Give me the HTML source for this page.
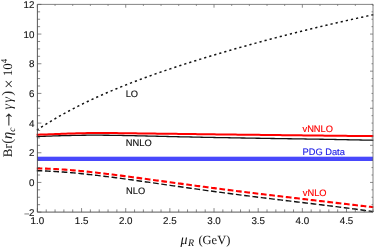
<!DOCTYPE html>
<html><head><meta charset="utf-8"><title>plot</title>
<style>
html,body{margin:0;padding:0;background:#fff;}
body{width:374px;height:247px;overflow:hidden;font-family:"Liberation Sans",sans-serif;}
svg{display:block;text-rendering:geometricPrecision}
.tk text{font-family:"Liberation Sans",sans-serif;font-size:9.8px;fill:#111;stroke:#111;stroke-width:0.12px;}
.lb text{font-family:"Liberation Sans",sans-serif;font-size:9.3px;stroke-width:0.15px;}
.ax{font-family:"Liberation Serif",serif;fill:#111;}
</style></head><body>
<svg width="374" height="247" viewBox="0 0 374 247">
<rect width="374" height="247" fill="#fff"/>
<defs><filter id="idf" x="0" y="0" width="374" height="247" filterUnits="userSpaceOnUse" color-interpolation-filters="sRGB"><feColorMatrix type="matrix" values="1 0 0 0 0 0 1 0 0 0 0 0 1 0 0 0 0 0 1 0"/></filter><clipPath id="cp"><rect x="36.5" y="4.4" width="337.1" height="207.7"/></clipPath></defs>
<g clip-path="url(#cp)" fill="none">
<path d="M36.20,130.53 L37.89,129.40 L39.59,128.29 L41.28,127.19 L42.98,126.10 L44.67,125.03 L46.37,123.96 L48.06,122.92 L49.76,121.88 L51.45,120.85 L53.15,119.84 L54.84,118.84 L56.54,117.85 L58.23,116.87 L59.93,115.91 L61.62,114.95 L63.32,114.00 L65.01,113.07 L66.71,112.14 L68.40,111.23 L70.10,110.32 L71.79,109.43 L73.49,108.54 L75.18,107.66 L76.88,106.80 L78.57,105.94 L80.27,105.09 L81.96,104.25 L83.66,103.41 L85.35,102.59 L87.05,101.77 L88.74,100.96 L90.44,100.16 L92.13,99.37 L93.83,98.58 L95.52,97.80 L97.22,97.03 L98.91,96.26 L100.61,95.51 L102.30,94.75 L104.00,94.01 L105.69,93.27 L107.39,92.54 L109.08,91.81 L110.78,91.09 L112.47,90.38 L114.17,89.67 L115.86,88.97 L117.56,88.27 L119.25,87.58 L120.95,86.90 L122.64,86.22 L124.34,85.54 L126.03,84.87 L127.73,84.20 L129.42,83.54 L131.12,82.89 L132.81,82.24 L134.51,81.59 L136.20,80.95 L137.90,80.31 L139.59,79.68 L141.29,79.05 L142.98,78.42 L144.68,77.80 L146.37,77.18 L148.07,76.57 L149.76,75.96 L151.46,75.35 L153.15,74.75 L154.85,74.15 L156.54,73.55 L158.24,72.96 L159.93,72.37 L161.63,71.79 L163.32,71.20 L165.02,70.62 L166.71,70.05 L168.41,69.48 L170.10,68.91 L171.80,68.34 L173.49,67.77 L175.19,67.21 L176.88,66.65 L178.58,66.10 L180.27,65.54 L181.97,64.99 L183.66,64.44 L185.36,63.90 L187.05,63.36 L188.75,62.82 L190.44,62.28 L192.14,61.74 L193.83,61.21 L195.53,60.68 L197.22,60.15 L198.92,59.62 L200.61,59.10 L202.31,58.57 L204.00,58.05 L205.70,57.54 L207.39,57.02 L209.09,56.51 L210.78,55.99 L212.48,55.48 L214.17,54.98 L215.87,54.47 L217.56,53.97 L219.26,53.47 L220.95,52.97 L222.65,52.47 L224.34,51.97 L226.04,51.48 L227.73,50.98 L229.43,50.49 L231.12,50.00 L232.82,49.52 L234.51,49.03 L236.21,48.55 L237.90,48.07 L239.60,47.59 L241.29,47.11 L242.99,46.63 L244.68,46.16 L246.38,45.69 L248.07,45.21 L249.77,44.74 L251.46,44.28 L253.16,43.81 L254.85,43.35 L256.55,42.88 L258.24,42.42 L259.94,41.96 L261.63,41.50 L263.33,41.05 L265.02,40.59 L266.72,40.14 L268.41,39.69 L270.11,39.24 L271.80,38.79 L273.50,38.35 L275.19,37.90 L276.89,37.46 L278.58,37.02 L280.28,36.58 L281.97,36.14 L283.67,35.70 L285.36,35.27 L287.06,34.83 L288.75,34.40 L290.45,33.97 L292.14,33.54 L293.84,33.12 L295.53,32.69 L297.23,32.27 L298.92,31.84 L300.62,31.42 L302.31,31.00 L304.01,30.59 L305.70,30.17 L307.40,29.76 L309.09,29.34 L310.79,28.93 L312.48,28.52 L314.18,28.11 L315.87,27.71 L317.57,27.30 L319.26,26.90 L320.96,26.49 L322.65,26.09 L324.35,25.69 L326.04,25.30 L327.74,24.90 L329.43,24.50 L331.13,24.11 L332.82,23.72 L334.52,23.33 L336.21,22.94 L337.91,22.55 L339.60,22.16 L341.30,21.78 L342.99,21.39 L344.69,21.01 L346.38,20.63 L348.08,20.25 L349.77,19.87 L351.47,19.49 L353.16,19.11 L354.86,18.74 L356.55,18.36 L358.25,17.99 L359.94,17.62 L361.64,17.25 L363.33,16.88 L365.03,16.51 L366.72,16.14 L368.42,15.77 L370.11,15.40 L371.81,15.04 L373.50,14.67" stroke="#111" stroke-width="1.5" stroke-dasharray="2.2 3.03" stroke-dashoffset="-0.6"/>
<rect x="37.4" y="156.7" width="335.6" height="4.3" fill="#4848fc"/>
<path d="M36.20,170.68 L37.89,170.72 L39.59,170.77 L41.28,170.82 L42.98,170.88 L44.67,170.95 L46.37,171.02 L48.06,171.10 L49.76,171.18 L51.45,171.27 L53.15,171.37 L54.84,171.47 L56.54,171.58 L58.23,171.69 L59.93,171.80 L61.62,171.93 L63.32,172.05 L65.01,172.18 L66.71,172.32 L68.40,172.46 L70.10,172.60 L71.79,172.75 L73.49,172.91 L75.18,173.06 L76.88,173.22 L78.57,173.39 L80.27,173.55 L81.96,173.73 L83.66,173.90 L85.35,174.08 L87.05,174.26 L88.74,174.44 L90.44,174.63 L92.13,174.82 L93.83,175.02 L95.52,175.21 L97.22,175.41 L98.91,175.61 L100.61,175.82 L102.30,176.02 L104.00,176.23 L105.69,176.44 L107.39,176.65 L109.08,176.87 L110.78,177.08 L112.47,177.30 L114.17,177.52 L115.86,177.74 L117.56,177.97 L119.25,178.19 L120.95,178.42 L122.64,178.65 L124.34,178.88 L126.03,179.11 L127.73,179.34 L129.42,179.57 L131.12,179.80 L132.81,180.04 L134.51,180.27 L136.20,180.51 L137.90,180.75 L139.59,180.98 L141.29,181.22 L142.98,181.46 L144.68,181.70 L146.37,181.94 L148.07,182.18 L149.76,182.42 L151.46,182.67 L153.15,182.91 L154.85,183.15 L156.54,183.39 L158.24,183.63 L159.93,183.88 L161.63,184.12 L163.32,184.36 L165.02,184.61 L166.71,184.85 L168.41,185.09 L170.10,185.33 L171.80,185.57 L173.49,185.82 L175.19,186.06 L176.88,186.30 L178.58,186.54 L180.27,186.78 L181.97,187.02 L183.66,187.26 L185.36,187.50 L187.05,187.74 L188.75,187.98 L190.44,188.22 L192.14,188.46 L193.83,188.69 L195.53,188.93 L197.22,189.17 L198.92,189.40 L200.61,189.64 L202.31,189.87 L204.00,190.11 L205.70,190.34 L207.39,190.57 L209.09,190.80 L210.78,191.03 L212.48,191.26 L214.17,191.49 L215.87,191.72 L217.56,191.95 L219.26,192.18 L220.95,192.40 L222.65,192.63 L224.34,192.86 L226.04,193.08 L227.73,193.30 L229.43,193.53 L231.12,193.75 L232.82,193.97 L234.51,194.19 L236.21,194.41 L237.90,194.63 L239.60,194.85 L241.29,195.07 L242.99,195.28 L244.68,195.50 L246.38,195.71 L248.07,195.93 L249.77,196.14 L251.46,196.36 L253.16,196.57 L254.85,196.78 L256.55,196.99 L258.24,197.21 L259.94,197.42 L261.63,197.63 L263.33,197.83 L265.02,198.04 L266.72,198.25 L268.41,198.46 L270.11,198.67 L271.80,198.87 L273.50,199.08 L275.19,199.28 L276.89,199.49 L278.58,199.70 L280.28,199.90 L281.97,200.10 L283.67,200.31 L285.36,200.51 L287.06,200.72 L288.75,200.92 L290.45,201.12 L292.14,201.32 L293.84,201.53 L295.53,201.73 L297.23,201.93 L298.92,202.14 L300.62,202.34 L302.31,202.54 L304.01,202.74 L305.70,202.95 L307.40,203.15 L309.09,203.35 L310.79,203.56 L312.48,203.76 L314.18,203.96 L315.87,204.17 L317.57,204.37 L319.26,204.58 L320.96,204.78 L322.65,204.99 L324.35,205.20 L326.04,205.40 L327.74,205.61 L329.43,205.82 L331.13,206.03 L332.82,206.24 L334.52,206.45 L336.21,206.66 L337.91,206.87 L339.60,207.09 L341.30,207.30 L342.99,207.52 L344.69,207.73 L346.38,207.95 L348.08,208.17 L349.77,208.39 L351.47,208.61 L353.16,208.83 L354.86,209.06 L356.55,209.28 L358.25,209.51 L359.94,209.74 L361.64,209.97 L363.33,210.20 L365.03,210.44 L366.72,210.67 L368.42,210.91 L370.11,211.15 L371.81,211.39 L373.50,211.63" stroke="#111" stroke-width="1.4" stroke-dasharray="5.72 2.645" stroke-dashoffset="-0.4"/>
<path d="M36.20,168.46 L37.89,168.48 L39.59,168.50 L41.28,168.53 L42.98,168.57 L44.67,168.62 L46.37,168.67 L48.06,168.73 L49.76,168.80 L51.45,168.87 L53.15,168.95 L54.84,169.04 L56.54,169.13 L58.23,169.23 L59.93,169.33 L61.62,169.44 L63.32,169.55 L65.01,169.67 L66.71,169.80 L68.40,169.93 L70.10,170.06 L71.79,170.20 L73.49,170.34 L75.18,170.49 L76.88,170.64 L78.57,170.80 L80.27,170.96 L81.96,171.12 L83.66,171.29 L85.35,171.46 L87.05,171.63 L88.74,171.81 L90.44,171.99 L92.13,172.18 L93.83,172.36 L95.52,172.55 L97.22,172.74 L98.91,172.94 L100.61,173.13 L102.30,173.33 L104.00,173.53 L105.69,173.74 L107.39,173.94 L109.08,174.15 L110.78,174.36 L112.47,174.57 L114.17,174.78 L115.86,175.00 L117.56,175.21 L119.25,175.43 L120.95,175.65 L122.64,175.87 L124.34,176.09 L126.03,176.31 L127.73,176.53 L129.42,176.76 L131.12,176.98 L132.81,177.21 L134.51,177.44 L136.20,177.66 L137.90,177.89 L139.59,178.12 L141.29,178.35 L142.98,178.58 L144.68,178.81 L146.37,179.04 L148.07,179.27 L149.76,179.50 L151.46,179.73 L153.15,179.97 L154.85,180.20 L156.54,180.43 L158.24,180.66 L159.93,180.89 L161.63,181.12 L163.32,181.36 L165.02,181.59 L166.71,181.82 L168.41,182.05 L170.10,182.28 L171.80,182.51 L173.49,182.74 L175.19,182.97 L176.88,183.20 L178.58,183.43 L180.27,183.66 L181.97,183.89 L183.66,184.12 L185.36,184.35 L187.05,184.58 L188.75,184.80 L190.44,185.03 L192.14,185.26 L193.83,185.48 L195.53,185.71 L197.22,185.93 L198.92,186.16 L200.61,186.38 L202.31,186.61 L204.00,186.83 L205.70,187.05 L207.39,187.27 L209.09,187.49 L210.78,187.72 L212.48,187.94 L214.17,188.15 L215.87,188.37 L217.56,188.59 L219.26,188.81 L220.95,189.03 L222.65,189.24 L224.34,189.46 L226.04,189.68 L227.73,189.89 L229.43,190.11 L231.12,190.32 L232.82,190.53 L234.51,190.75 L236.21,190.96 L237.90,191.17 L239.60,191.38 L241.29,191.59 L242.99,191.80 L244.68,192.01 L246.38,192.22 L248.07,192.43 L249.77,192.64 L251.46,192.85 L253.16,193.05 L254.85,193.26 L256.55,193.47 L258.24,193.67 L259.94,193.88 L261.63,194.09 L263.33,194.29 L265.02,194.49 L266.72,194.70 L268.41,194.90 L270.11,195.11 L271.80,195.31 L273.50,195.51 L275.19,195.72 L276.89,195.92 L278.58,196.12 L280.28,196.32 L281.97,196.52 L283.67,196.73 L285.36,196.93 L287.06,197.13 L288.75,197.33 L290.45,197.53 L292.14,197.73 L293.84,197.93 L295.53,198.13 L297.23,198.33 L298.92,198.53 L300.62,198.73 L302.31,198.93 L304.01,199.13 L305.70,199.33 L307.40,199.53 L309.09,199.72 L310.79,199.92 L312.48,200.12 L314.18,200.32 L315.87,200.52 L317.57,200.72 L319.26,200.92 L320.96,201.12 L322.65,201.31 L324.35,201.51 L326.04,201.71 L327.74,201.91 L329.43,202.11 L331.13,202.30 L332.82,202.50 L334.52,202.70 L336.21,202.90 L337.91,203.10 L339.60,203.29 L341.30,203.49 L342.99,203.69 L344.69,203.89 L346.38,204.08 L348.08,204.28 L349.77,204.48 L351.47,204.68 L353.16,204.87 L354.86,205.07 L356.55,205.27 L358.25,205.46 L359.94,205.66 L361.64,205.85 L363.33,206.05 L365.03,206.24 L366.72,206.44 L368.42,206.63 L370.11,206.83 L371.81,207.02 L373.50,207.22" stroke="#f00" stroke-width="2.1" stroke-dasharray="5.72 2.645" stroke-dashoffset="-0.4"/>
<path d="M36.20,136.58 L38.32,136.50 L40.44,136.42 L42.56,136.34 L44.69,136.27 L46.81,136.19 L48.93,136.11 L51.05,136.04 L53.17,135.97 L55.29,135.90 L57.41,135.83 L59.54,135.76 L61.66,135.70 L63.78,135.64 L65.90,135.59 L68.02,135.53 L70.14,135.48 L72.26,135.44 L74.38,135.39 L76.51,135.35 L78.63,135.32 L80.75,135.29 L82.87,135.26 L84.99,135.24 L87.11,135.22 L89.23,135.20 L91.36,135.19 L93.48,135.19 L95.60,135.19 L97.72,135.19 L99.84,135.20 L101.96,135.21 L104.08,135.23 L106.21,135.24 L108.33,135.27 L110.45,135.29 L112.57,135.32 L114.69,135.35 L116.81,135.38 L118.93,135.42 L121.06,135.45 L123.18,135.49 L125.30,135.54 L127.42,135.58 L129.54,135.62 L131.66,135.67 L133.78,135.72 L135.91,135.77 L138.03,135.81 L140.15,135.86 L142.27,135.91 L144.39,135.97 L146.51,136.02 L148.63,136.07 L150.75,136.12 L152.88,136.17 L155.00,136.22 L157.12,136.27 L159.24,136.32 L161.36,136.37 L163.48,136.41 L165.60,136.46 L167.73,136.51 L169.85,136.56 L171.97,136.61 L174.09,136.65 L176.21,136.70 L178.33,136.75 L180.45,136.79 L182.58,136.84 L184.70,136.88 L186.82,136.93 L188.94,136.97 L191.06,137.02 L193.18,137.06 L195.30,137.11 L197.43,137.15 L199.55,137.19 L201.67,137.24 L203.79,137.28 L205.91,137.32 L208.03,137.36 L210.15,137.40 L212.27,137.44 L214.40,137.49 L216.52,137.53 L218.64,137.57 L220.76,137.61 L222.88,137.65 L225.00,137.68 L227.12,137.72 L229.25,137.76 L231.37,137.80 L233.49,137.84 L235.61,137.88 L237.73,137.91 L239.85,137.95 L241.97,137.99 L244.10,138.02 L246.22,138.06 L248.34,138.10 L250.46,138.13 L252.58,138.17 L254.70,138.20 L256.82,138.24 L258.95,138.27 L261.07,138.31 L263.19,138.34 L265.31,138.38 L267.43,138.41 L269.55,138.44 L271.67,138.48 L273.79,138.51 L275.92,138.54 L278.04,138.57 L280.16,138.61 L282.28,138.64 L284.40,138.67 L286.52,138.70 L288.64,138.74 L290.77,138.77 L292.89,138.80 L295.01,138.83 L297.13,138.86 L299.25,138.90 L301.37,138.93 L303.49,138.96 L305.62,139.00 L307.74,139.03 L309.86,139.06 L311.98,139.10 L314.10,139.13 L316.22,139.16 L318.34,139.20 L320.47,139.23 L322.59,139.27 L324.71,139.31 L326.83,139.34 L328.95,139.38 L331.07,139.42 L333.19,139.46 L335.32,139.50 L337.44,139.54 L339.56,139.58 L341.68,139.62 L343.80,139.66 L345.92,139.70 L348.04,139.74 L350.16,139.78 L352.29,139.83 L354.41,139.87 L356.53,139.91 L358.65,139.95 L360.77,140.00 L362.89,140.04 L365.01,140.08 L367.14,140.13 L369.26,140.17 L371.38,140.22 L373.50,140.26" stroke="#111" stroke-width="1.3"/>
<path d="M36.20,134.78 L38.32,134.70 L40.44,134.62 L42.56,134.54 L44.69,134.46 L46.81,134.39 L48.93,134.31 L51.05,134.23 L53.17,134.15 L55.29,134.07 L57.41,133.99 L59.54,133.92 L61.66,133.84 L63.78,133.76 L65.90,133.69 L68.02,133.61 L70.14,133.54 L72.26,133.47 L74.38,133.40 L76.51,133.34 L78.63,133.28 L80.75,133.23 L82.87,133.18 L84.99,133.13 L87.11,133.09 L89.23,133.06 L91.36,133.03 L93.48,133.01 L95.60,133.00 L97.72,132.99 L99.84,132.99 L101.96,132.99 L104.08,133.00 L106.21,133.01 L108.33,133.03 L110.45,133.04 L112.57,133.06 L114.69,133.09 L116.81,133.11 L118.93,133.14 L121.06,133.16 L123.18,133.19 L125.30,133.22 L127.42,133.25 L129.54,133.28 L131.66,133.30 L133.78,133.33 L135.91,133.36 L138.03,133.39 L140.15,133.42 L142.27,133.45 L144.39,133.48 L146.51,133.51 L148.63,133.53 L150.75,133.56 L152.88,133.59 L155.00,133.61 L157.12,133.64 L159.24,133.66 L161.36,133.68 L163.48,133.71 L165.60,133.73 L167.73,133.76 L169.85,133.78 L171.97,133.80 L174.09,133.83 L176.21,133.85 L178.33,133.88 L180.45,133.91 L182.58,133.93 L184.70,133.96 L186.82,133.99 L188.94,134.02 L191.06,134.04 L193.18,134.07 L195.30,134.10 L197.43,134.13 L199.55,134.16 L201.67,134.19 L203.79,134.22 L205.91,134.25 L208.03,134.27 L210.15,134.30 L212.27,134.33 L214.40,134.36 L216.52,134.38 L218.64,134.41 L220.76,134.44 L222.88,134.46 L225.00,134.49 L227.12,134.51 L229.25,134.54 L231.37,134.56 L233.49,134.59 L235.61,134.61 L237.73,134.64 L239.85,134.66 L241.97,134.68 L244.10,134.71 L246.22,134.73 L248.34,134.76 L250.46,134.78 L252.58,134.80 L254.70,134.83 L256.82,134.85 L258.95,134.87 L261.07,134.90 L263.19,134.92 L265.31,134.95 L267.43,134.97 L269.55,134.99 L271.67,135.02 L273.79,135.04 L275.92,135.07 L278.04,135.09 L280.16,135.12 L282.28,135.15 L284.40,135.17 L286.52,135.20 L288.64,135.22 L290.77,135.25 L292.89,135.27 L295.01,135.30 L297.13,135.32 L299.25,135.35 L301.37,135.37 L303.49,135.40 L305.62,135.43 L307.74,135.45 L309.86,135.48 L311.98,135.50 L314.10,135.52 L316.22,135.55 L318.34,135.57 L320.47,135.60 L322.59,135.62 L324.71,135.64 L326.83,135.67 L328.95,135.69 L331.07,135.71 L333.19,135.73 L335.32,135.75 L337.44,135.78 L339.56,135.80 L341.68,135.82 L343.80,135.84 L345.92,135.86 L348.04,135.88 L350.16,135.90 L352.29,135.92 L354.41,135.94 L356.53,135.96 L358.65,135.97 L360.77,135.99 L362.89,136.01 L365.01,136.03 L367.14,136.05 L369.26,136.07 L371.38,136.09 L373.50,136.10" stroke="#f00" stroke-width="2.0"/>
</g>
<g stroke="#444" stroke-width="0.9" fill="none">
<path d="M37.4,4.4 V212.1 H373.0"/>
</g>
<g stroke="#666" stroke-width="0.8" fill="none">
<path d="M37.4,4.4 H373.0 V212.1"/>
</g>
<g stroke="#555" stroke-width="0.7" fill="none">
<line x1="37.40" y1="212.10" x2="41.40" y2="212.10"/><line x1="37.40" y1="204.68" x2="40.10" y2="204.68"/><line x1="37.40" y1="197.26" x2="40.10" y2="197.26"/><line x1="37.40" y1="189.85" x2="40.10" y2="189.85"/><line x1="37.40" y1="182.43" x2="41.40" y2="182.43"/><line x1="37.40" y1="175.01" x2="40.10" y2="175.01"/><line x1="37.40" y1="167.59" x2="40.10" y2="167.59"/><line x1="37.40" y1="160.18" x2="40.10" y2="160.18"/><line x1="37.40" y1="152.76" x2="41.40" y2="152.76"/><line x1="37.40" y1="145.34" x2="40.10" y2="145.34"/><line x1="37.40" y1="137.92" x2="40.10" y2="137.92"/><line x1="37.40" y1="130.50" x2="40.10" y2="130.50"/><line x1="37.40" y1="123.09" x2="41.40" y2="123.09"/><line x1="37.40" y1="115.67" x2="40.10" y2="115.67"/><line x1="37.40" y1="108.25" x2="40.10" y2="108.25"/><line x1="37.40" y1="100.83" x2="40.10" y2="100.83"/><line x1="37.40" y1="93.41" x2="41.40" y2="93.41"/><line x1="37.40" y1="86.00" x2="40.10" y2="86.00"/><line x1="37.40" y1="78.58" x2="40.10" y2="78.58"/><line x1="37.40" y1="71.16" x2="40.10" y2="71.16"/><line x1="37.40" y1="63.74" x2="41.40" y2="63.74"/><line x1="37.40" y1="56.32" x2="40.10" y2="56.32"/><line x1="37.40" y1="48.91" x2="40.10" y2="48.91"/><line x1="37.40" y1="41.49" x2="40.10" y2="41.49"/><line x1="37.40" y1="34.07" x2="41.40" y2="34.07"/><line x1="37.40" y1="26.65" x2="40.10" y2="26.65"/><line x1="37.40" y1="19.24" x2="40.10" y2="19.24"/><line x1="37.40" y1="11.82" x2="40.10" y2="11.82"/><line x1="37.40" y1="4.40" x2="41.40" y2="4.40"/><line x1="37.40" y1="212.10" x2="37.40" y2="208.10"/><line x1="46.23" y1="212.10" x2="46.23" y2="209.40"/><line x1="55.06" y1="212.10" x2="55.06" y2="209.40"/><line x1="63.89" y1="212.10" x2="63.89" y2="209.40"/><line x1="72.73" y1="212.10" x2="72.73" y2="209.40"/><line x1="81.56" y1="212.10" x2="81.56" y2="208.10"/><line x1="90.39" y1="212.10" x2="90.39" y2="209.40"/><line x1="99.22" y1="212.10" x2="99.22" y2="209.40"/><line x1="108.05" y1="212.10" x2="108.05" y2="209.40"/><line x1="116.88" y1="212.10" x2="116.88" y2="209.40"/><line x1="125.72" y1="212.10" x2="125.72" y2="208.10"/><line x1="134.55" y1="212.10" x2="134.55" y2="209.40"/><line x1="143.38" y1="212.10" x2="143.38" y2="209.40"/><line x1="152.21" y1="212.10" x2="152.21" y2="209.40"/><line x1="161.04" y1="212.10" x2="161.04" y2="209.40"/><line x1="169.87" y1="212.10" x2="169.87" y2="208.10"/><line x1="178.71" y1="212.10" x2="178.71" y2="209.40"/><line x1="187.54" y1="212.10" x2="187.54" y2="209.40"/><line x1="196.37" y1="212.10" x2="196.37" y2="209.40"/><line x1="205.20" y1="212.10" x2="205.20" y2="209.40"/><line x1="214.03" y1="212.10" x2="214.03" y2="208.10"/><line x1="222.86" y1="212.10" x2="222.86" y2="209.40"/><line x1="231.69" y1="212.10" x2="231.69" y2="209.40"/><line x1="240.53" y1="212.10" x2="240.53" y2="209.40"/><line x1="249.36" y1="212.10" x2="249.36" y2="209.40"/><line x1="258.19" y1="212.10" x2="258.19" y2="208.10"/><line x1="267.02" y1="212.10" x2="267.02" y2="209.40"/><line x1="275.85" y1="212.10" x2="275.85" y2="209.40"/><line x1="284.68" y1="212.10" x2="284.68" y2="209.40"/><line x1="293.52" y1="212.10" x2="293.52" y2="209.40"/><line x1="302.35" y1="212.10" x2="302.35" y2="208.10"/><line x1="311.18" y1="212.10" x2="311.18" y2="209.40"/><line x1="320.01" y1="212.10" x2="320.01" y2="209.40"/><line x1="328.84" y1="212.10" x2="328.84" y2="209.40"/><line x1="337.67" y1="212.10" x2="337.67" y2="209.40"/><line x1="346.51" y1="212.10" x2="346.51" y2="208.10"/><line x1="355.34" y1="212.10" x2="355.34" y2="209.40"/><line x1="364.17" y1="212.10" x2="364.17" y2="209.40"/><line x1="373.00" y1="212.10" x2="373.00" y2="209.40"/>
</g>
<g stroke="#666" stroke-width="0.75" fill="none">
<line x1="373.00" y1="212.10" x2="371.50" y2="212.10"/><line x1="373.00" y1="204.68" x2="371.50" y2="204.68"/><line x1="373.00" y1="197.26" x2="371.50" y2="197.26"/><line x1="373.00" y1="189.85" x2="371.50" y2="189.85"/><line x1="373.00" y1="182.43" x2="370.00" y2="182.43"/><line x1="373.00" y1="175.01" x2="371.50" y2="175.01"/><line x1="373.00" y1="167.59" x2="371.50" y2="167.59"/><line x1="373.00" y1="160.18" x2="371.50" y2="160.18"/><line x1="373.00" y1="152.76" x2="371.50" y2="152.76"/><line x1="373.00" y1="145.34" x2="370.00" y2="145.34"/><line x1="373.00" y1="137.92" x2="371.50" y2="137.92"/><line x1="373.00" y1="130.50" x2="371.50" y2="130.50"/><line x1="373.00" y1="123.09" x2="371.50" y2="123.09"/><line x1="373.00" y1="115.67" x2="371.50" y2="115.67"/><line x1="373.00" y1="108.25" x2="370.00" y2="108.25"/><line x1="373.00" y1="100.83" x2="371.50" y2="100.83"/><line x1="373.00" y1="93.41" x2="371.50" y2="93.41"/><line x1="373.00" y1="86.00" x2="371.50" y2="86.00"/><line x1="373.00" y1="78.58" x2="371.50" y2="78.58"/><line x1="373.00" y1="71.16" x2="370.00" y2="71.16"/><line x1="373.00" y1="63.74" x2="371.50" y2="63.74"/><line x1="373.00" y1="56.32" x2="371.50" y2="56.32"/><line x1="373.00" y1="48.91" x2="371.50" y2="48.91"/><line x1="373.00" y1="41.49" x2="371.50" y2="41.49"/><line x1="373.00" y1="34.07" x2="370.00" y2="34.07"/><line x1="373.00" y1="26.65" x2="371.50" y2="26.65"/><line x1="373.00" y1="19.24" x2="371.50" y2="19.24"/><line x1="373.00" y1="11.82" x2="371.50" y2="11.82"/><line x1="373.00" y1="4.40" x2="371.50" y2="4.40"/><line x1="37.40" y1="4.40" x2="37.40" y2="7.70"/><line x1="55.06" y1="4.40" x2="55.06" y2="5.90"/><line x1="72.73" y1="4.40" x2="72.73" y2="5.90"/><line x1="90.39" y1="4.40" x2="90.39" y2="5.90"/><line x1="108.05" y1="4.40" x2="108.05" y2="5.90"/><line x1="125.72" y1="4.40" x2="125.72" y2="7.70"/><line x1="143.38" y1="4.40" x2="143.38" y2="5.90"/><line x1="161.04" y1="4.40" x2="161.04" y2="5.90"/><line x1="178.71" y1="4.40" x2="178.71" y2="5.90"/><line x1="196.37" y1="4.40" x2="196.37" y2="5.90"/><line x1="214.03" y1="4.40" x2="214.03" y2="7.70"/><line x1="231.69" y1="4.40" x2="231.69" y2="5.90"/><line x1="249.36" y1="4.40" x2="249.36" y2="5.90"/><line x1="267.02" y1="4.40" x2="267.02" y2="5.90"/><line x1="284.68" y1="4.40" x2="284.68" y2="5.90"/><line x1="302.35" y1="4.40" x2="302.35" y2="7.70"/><line x1="320.01" y1="4.40" x2="320.01" y2="5.90"/><line x1="337.67" y1="4.40" x2="337.67" y2="5.90"/><line x1="355.34" y1="4.40" x2="355.34" y2="5.90"/><line x1="373.00" y1="4.40" x2="373.00" y2="5.90"/>
</g>
<g class="tk" filter="url(#idf)">
<text x="34.40" y="215.61" text-anchor="end"><tspan font-size="8">–</tspan><tspan dx="0.3"/>2</text><text x="34.40" y="185.94" text-anchor="end">0</text><text x="34.40" y="156.27" text-anchor="end">2</text><text x="34.40" y="126.59" text-anchor="end">4</text><text x="34.40" y="96.92" text-anchor="end">6</text><text x="34.40" y="67.25" text-anchor="end">8</text><text x="34.40" y="37.58" text-anchor="end">10</text><text x="34.40" y="7.91" text-anchor="end">12</text>
<text x="37.40" y="223.8" text-anchor="middle">1.0</text><text x="81.56" y="223.8" text-anchor="middle">1.5</text><text x="125.72" y="223.8" text-anchor="middle">2.0</text><text x="169.87" y="223.8" text-anchor="middle">2.5</text><text x="214.03" y="223.8" text-anchor="middle">3.0</text><text x="258.19" y="223.8" text-anchor="middle">3.5</text><text x="302.35" y="223.8" text-anchor="middle">4.0</text><text x="346.51" y="223.8" text-anchor="middle">4.5</text>
</g>
<g class="lb" filter="url(#idf)">
<text x="125.7" y="96.7" fill="#111" stroke="#111">LO</text>
<text x="125.8" y="146.25" fill="#111" stroke="#111">NNLO</text>
<text x="126.0" y="194.3" fill="#111" stroke="#111">NLO</text>
<text x="302.5" y="131.8" fill="#f00" stroke="#f00">vNNLO</text>
<text x="302.5" y="155.1" fill="#2020e6" stroke="#2020e6">PDG Data</text>
<text x="302.8" y="195.5" fill="#f00" stroke="#f00">vNLO</text>
</g>
<g class="ax" filter="url(#idf)">
<g transform="translate(12.4,157.2) rotate(-90)" font-size="13">
<text x="0" y="0">Br</text>
<text x="13.5" y="0" font-size="14.8" fill="#2a2a2a">(</text>
<text x="18.3" y="0" font-style="italic" font-size="14.5">η</text>
<text x="25.5" y="2.6" font-style="italic" font-size="9.5">c</text>
<text transform="translate(27.8,0.6) scale(1,1.25)" font-size="20" fill="#2a2a2a">→</text>
<text x="47.8" y="0" font-style="italic" font-size="14" letter-spacing="1.3">γγ</text>
<text x="61.35" y="0" font-size="14.8" fill="#2a2a2a">)</text>
<text x="68.6" y="1.2" font-size="16">×</text>
<text x="81.0" y="0">10</text>
<text x="93.9" y="-5.2" font-size="9">4</text>
</g>
<text x="180.5" y="243.5" font-size="14" font-style="italic">μ</text>
<text x="188.0" y="245.6" font-size="10" font-style="italic">R</text>
<text x="198.4" y="243.5" font-size="12.5">(GeV)</text>
</g>
</svg>
</body></html>
